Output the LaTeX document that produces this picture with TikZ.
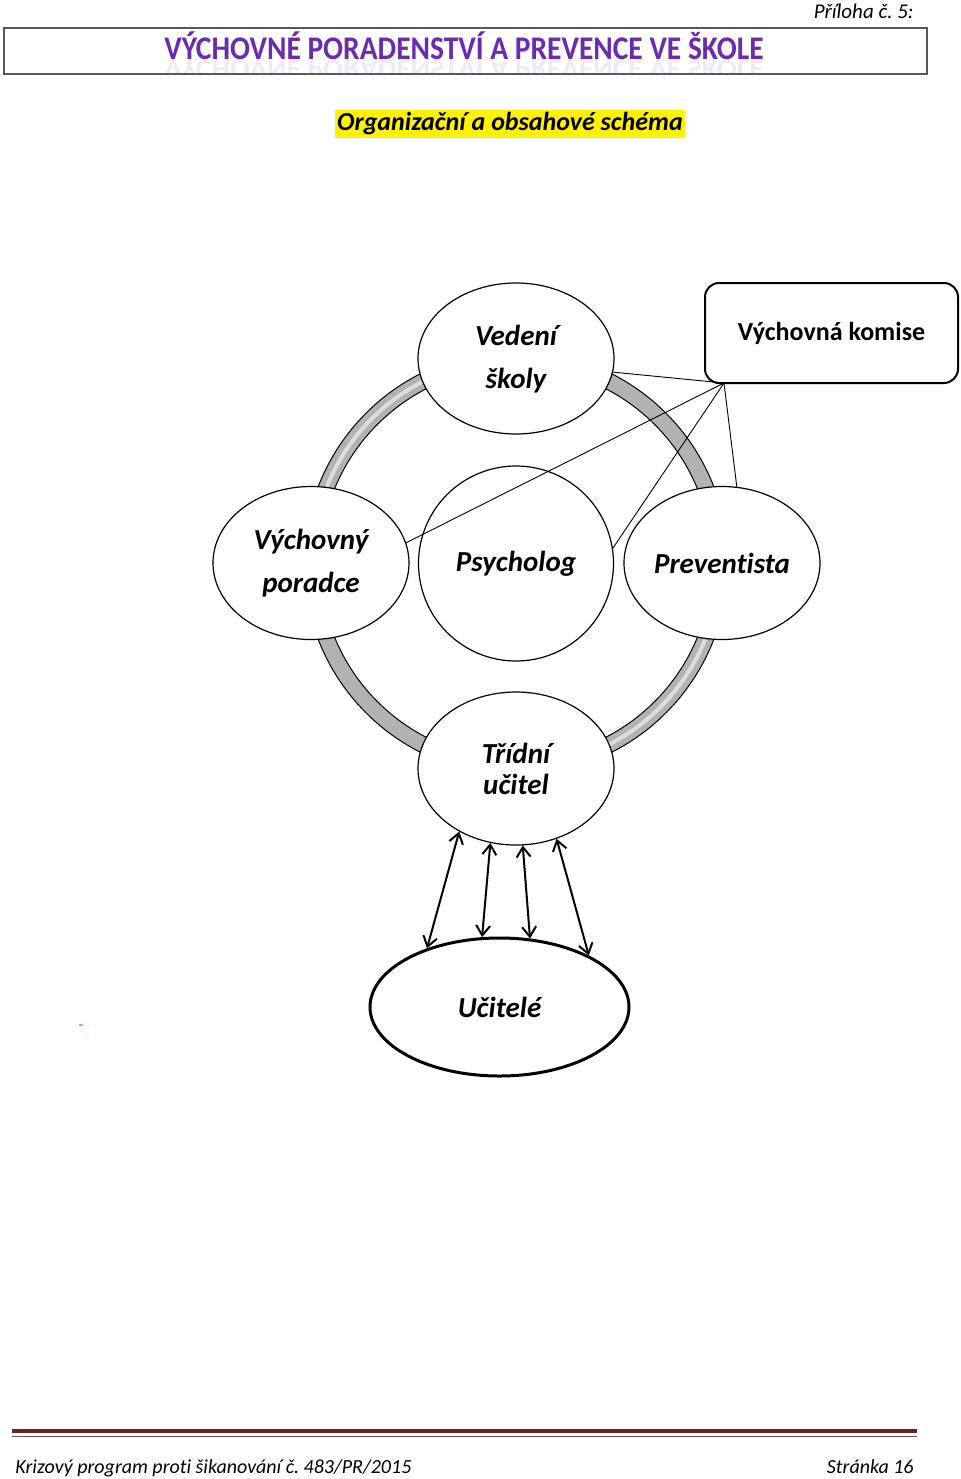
\documentclass[tikz,border=0pt]{standalone}
\usepackage{fontspec}
\setmainfont{Carlito}[Ligatures=NoCommon]
\usetikzlibrary{shapes.geometric,arrows.meta}
\definecolor{titlepurple}{HTML}{6A2BB0}
\definecolor{footred}{HTML}{632523}
\definecolor{ringgray}{HTML}{B2B2B2}
\frenchspacing
\begin{document}
\begin{tikzpicture}[x=0.5pt,y=-0.5pt,
  bubble/.style={ellipse, draw, fill=white, line width=0.6pt, inner sep=0pt,
    minimum width=98pt, minimum height=76.5pt, align=center,
    font=\bfseries\itshape\fontsize{14.5}{21.5}\selectfont},
  link/.style={line width=0.45pt},
  twoway/.style={line width=1pt, {Straight Barb[length=5pt,width=7pt]}-{Straight Barb[length=5pt,width=7pt]}},
  titlefont/.style={font=\bfseries\fontsize{14.75}{16}\selectfont, text=titlepurple}
]
\useasboundingbox (0,0) rectangle (960,1479);

% header
\node[anchor=base east, font=\itshape\fontsize{10.5}{12}\selectfont, inner sep=0pt] (priloha) at (914,18) {Příloha č. 5:};
\node[draw=gray!70!black, line width=0.7pt, minimum width=461.5pt, minimum height=23pt, inner sep=0pt] (titlebox) at (465.5,51) {};
\begin{scope}
  \clip (5,29) rectangle (926,72);
  \node[anchor=base, yscale=-0.9, opacity=0.1, inner sep=0pt, titlefont] (titlerefl) at (464,60) {VÝCHOVNÉ PORADENSTVÍ A PREVENCE VE ŠKOLE};
\end{scope}
\node[anchor=base, yscale=1.12, inner sep=0pt, titlefont] (title) at (464,59) {VÝCHOVNÉ PORADENSTVÍ A PREVENCE VE ŠKOLE};
\node[fill=yellow, inner xsep=1pt, inner ysep=0pt, minimum height=14pt, font=\bfseries\itshape\fontsize{13}{15}\selectfont] (schema) at (510,123.5) {Organizační a obsahové schéma};

% ring
\fill[ringgray, even odd rule] (516,563) circle[radius=106pt] (516,563) circle[radius=98pt];
\draw[white, opacity=0.55, line width=2pt] ([shift={(112:102pt)}]516,563) arc[start angle=112, end angle=158, radius=102pt];
\draw[white, opacity=0.55, line width=2pt] ([shift={(-68:102pt)}]516,563) arc[start angle=-68, end angle=-22, radius=102pt];
\draw[line width=0.5pt] (516,563) circle[radius=106pt];
\draw[line width=0.5pt] (516,563) circle[radius=98pt];

% bubbles
\node[bubble, minimum height=75.5pt, text depth=2pt] (vedeni) at (516,358.5) {Vedení\\školy};
\node[bubble, text depth=2pt] (vychovny) at (311,563) {Výchovný\\poradce};
\node[bubble, minimum width=97.5pt, minimum height=97.5pt] (psycholog) at (516,563.5) {Psycholog};
\node[bubble] (preventista) at (722,563) {Preventista};
\node[bubble, font=\bfseries\itshape\fontsize{14.5}{15.5}\selectfont] (tridni) at (516,768.5) {Třídní\\učitel};
\node[bubble, line width=1.5pt, minimum width=129.5pt, minimum height=69pt] (ucitele) at (499.5,1007) {Učitelé};

\node[draw, line width=1pt, rounded corners=7pt, minimum width=126.5pt, minimum height=50pt, inner sep=0pt,
  font=\bfseries\fontsize{13}{15}\selectfont] (komise) at (831.5,333) {Výchovná komise};
\coordinate (k) at (724,383);

% links from komise
\draw[link] (k) -- (vedeni.-8);
\draw[link] (k) -- (vychovny.12);
\draw[link] (k) -- (psycholog.9.5);
\draw[link] (k) -- (preventista.79);

% arrows
\draw[twoway] (tridni.228) -- (ucitele.141.6);
\draw[twoway] (tridni.251.7) -- (ucitele.104.2);
\draw[twoway] (tridni.275) -- (ucitele.66.2);
\draw[twoway] (tridni.300.4) -- (ucitele.30.7);

\node[text=red, font=\fontsize{7}{8}\selectfont, inner sep=0pt] (dash) at (81,1027) {-};

% footer
\draw[footred, line width=2.2pt] (12,1431) -- (917,1431);
\draw[footred!80!white, line width=0.6pt] (12,1436.5) -- (917,1436.5);
\node[anchor=base west, inner sep=0pt, font=\itshape\fontsize{10}{12}\selectfont] (foot) at (15,1473) {Krizový program proti šikanování č. 483/PR/2015};
\node[anchor=base east, inner sep=0pt, font=\itshape\fontsize{10}{12}\selectfont] (page) at (914,1473) {Stránka 16};
\end{tikzpicture}
\end{document}
